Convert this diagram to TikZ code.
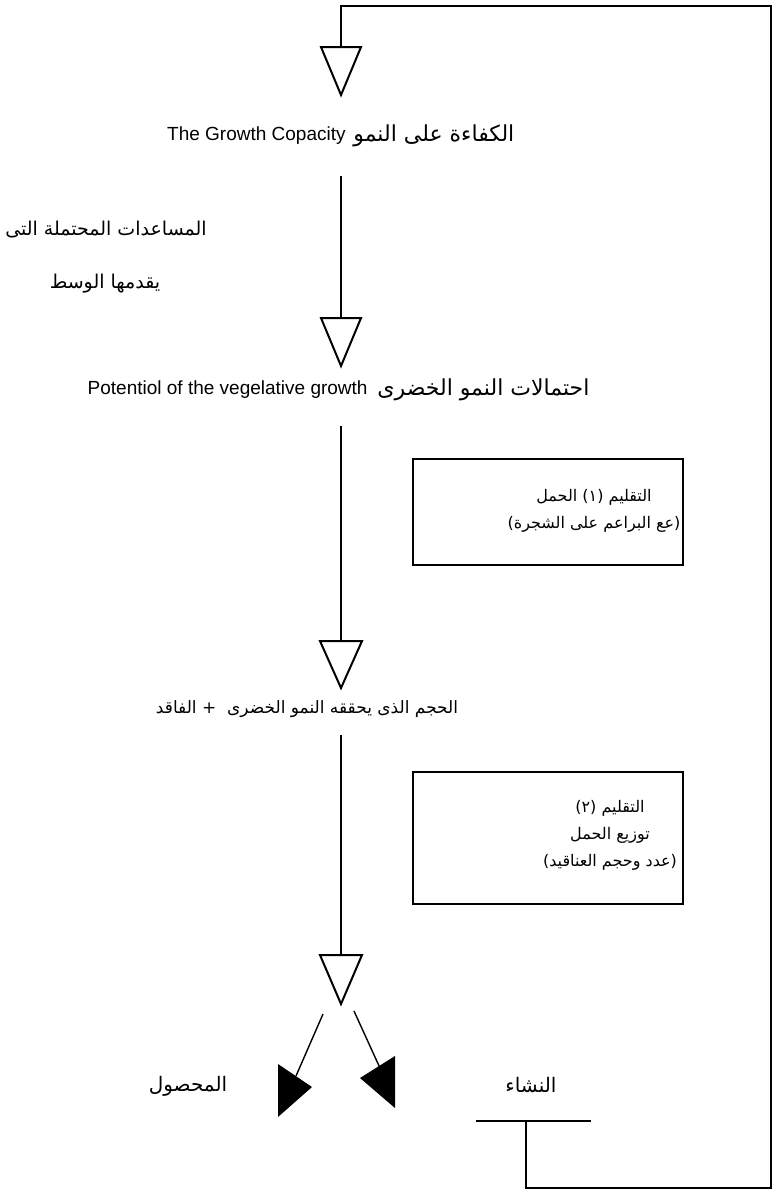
\documentclass[tikz,border=0pt]{standalone}
\usepackage{fontspec}
\setmainfont{Liberation Sans}
\newfontfamily\arabicfont[Script=Arabic]{DejaVu Sans}
\TeXXeTstate=1
\usepackage{tikz}
\usetikzlibrary{positioning,calc}

\begin{document}
\begin{tikzpicture}[x=0.5pt,y=-0.5pt,
    flow/.style={line width=0.7pt},
    hollow/.style={line width=1pt, line join=miter, fill=white},
    solid/.style={fill=black},
    latin/.style={inner sep=0pt, font=\fontsize{9.5}{11}\selectfont},
    arab/.style={inner sep=0pt, font=\arabicfont\fontsize{11}{13}\selectfont},
    arabsmall/.style={inner sep=0pt, font=\arabicfont\fontsize{9.5}{12}\selectfont},
    prunebox/.style={rectangle, draw, line width=0.7pt, minimum width=135pt, minimum height=55pt},
    prunetext/.style={inner sep=0pt, align=center, font=\arabicfont\fontsize{8}{13.5}\selectfont}
]
    \useasboundingbox (0,0) rectangle (776,1195);

    % main column of triangles
    \coordinate (t1) at (341,47);
    \coordinate (t2) at (341,318);
    \coordinate (t3) at (341,641);
    \coordinate (t4) at (341,955);
    \draw[hollow] (t1) ++(-20,0) -- ++(40,0) -- ++(-20,48) -- cycle;
    \draw[hollow] (t2) ++(-20,0) -- ++(40,0) -- ++(-20,48) -- cycle;
    \draw[hollow] (t3) ++(-21,0) -- ++(42,0) -- ++(-21,47) -- cycle;
    \draw[hollow] (t4) ++(-21,0) -- ++(42,0) -- ++(-21,49) -- cycle;

    % texts
    \node[latin, anchor=east] (cap) at (346,136) {The Growth Copacity};
    \node[arab, anchor=west] (capar) at (353,136) {\beginR الكفاءة على النمو\endR};
    \node[arabsmall] (help1) at (106,230) {\beginR المساعدات المحتملة التى\endR};
    \node[arabsmall] (help2) at (105,284) {\beginR يقدمها الوسط\endR};
    \node[latin, anchor=east] (pot) at (368,390) {Potentiol of the vegelative growth};
    \node[arab, anchor=west] (potar) at (377,390) {\beginR احتمالات النمو الخضرى\endR};
    \node[arabsmall, font=\arabicfont\fontsize{8.5}{12}\selectfont] (vol) at (307,709) {\beginR الحجم الذى يحققه النمو الخضرى \ + الفاقد\endR};

    % pruning boxes
    \node[prunebox, minimum height=53pt] (prune1) at (548,512) {};
    \node[prunetext] (prune1t) at (594,511) {\beginR التقليم (١) الحمل\endR\\\beginR (عع البراعم على الشجرة)\endR};
    \node[prunebox, minimum height=66pt] (prune2) at (548,838) {};
    \node[prunetext] (prune2t) at (610,835) {\beginR التقليم (٢)\endR\\\beginR توزيع الحمل\endR\\\beginR (عدد وحجم العناقيد)\endR};

    % vertical connectors
    \coordinate (a1) at (341,176);
    \coordinate (a2) at (341,426);
    \coordinate (a3) at (341,735);
    \draw[flow] (a1) -- (t2);
    \draw[flow] (a2) -- (t3);
    \draw[flow] (a3) -- (t4);

    % split into yield and starch
    \coordinate (s1) at (323,1014);
    \coordinate (s2) at (354,1011);
    \coordinate (yl) at (278,1064);
    \coordinate (yr) at (395,1056);
    \draw[flow] (s1) -- ($(yl)+(18,12)$);
    \draw[flow] (s2) -- ($(yr)+(-15,12)$);
    \fill[solid] (yl) -- ++(0,53) -- ++(34,-30) -- cycle;
    \fill[solid] (yr) -- ++(0,52) -- ++(-35,-30) -- cycle;
    \node[arab, font=\arabicfont\fontsize{10}{12}\selectfont] (yield) at (188,1086) {\beginR المحصول\endR};
    \node[arab, font=\arabicfont\fontsize{10}{12}\selectfont] (starch) at (531,1085) {\beginR النشاء\endR};

    % return loop
    \coordinate (barl) at (476,1121);
    \coordinate (barr) at (591,1121);
    \coordinate (barm) at (526,1121);
    \coordinate (loopbr) at (771,1188);
    \coordinate (looptr) at (771,6);
    \draw[flow, line width=1pt] (barl) -- (barr);
    \draw[flow] (barm) |- (loopbr) -- (looptr) -| (t1);
\end{tikzpicture}
\end{document}
